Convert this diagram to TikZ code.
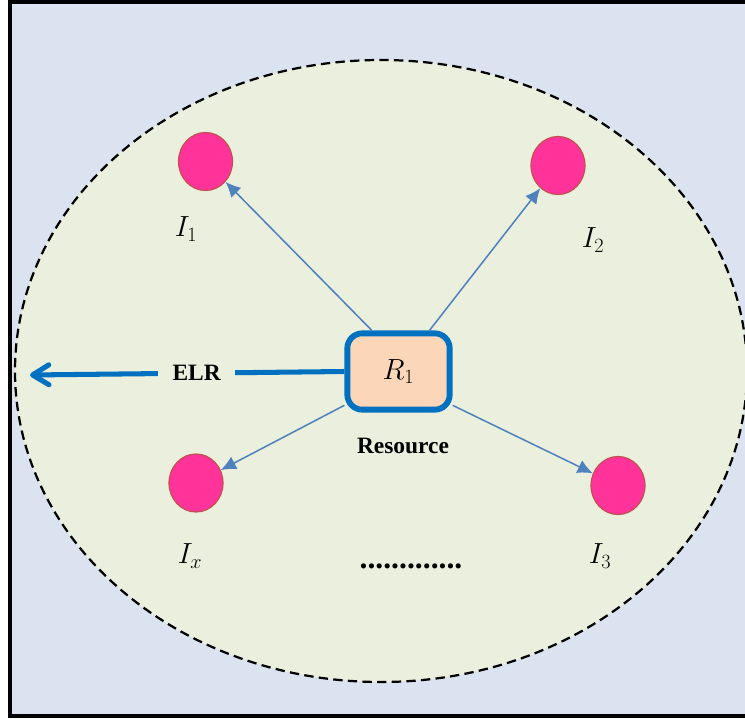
\documentclass[tikz,border=0pt]{standalone}
\usepackage{fontspec}
\setmainfont{Liberation Serif}
\usetikzlibrary{arrows.meta, positioning, shapes.geometric}
\definecolor{frameBg}{RGB}{219, 227, 240}
\definecolor{zoneFill}{RGB}{235, 240, 222}
\definecolor{itemPink}{RGB}{255, 51, 153}
\definecolor{itemEdge}{RGB}{192, 80, 77}
\definecolor{resFill}{RGB}{252, 214, 184}
\definecolor{resEdge}{RGB}{0, 112, 192}
\definecolor{linkBlue}{RGB}{79, 129, 189}

\begin{document}
\begin{tikzpicture}[
    x=0.03cm, y=-0.03cm,
    itemNode/.style={ellipse, draw=itemEdge, fill=itemPink, line width=1pt, minimum width=1.62cm, minimum height=1.74cm},
    labelNode/.style={font=\fontsize{23}{27}\selectfont, inner sep=0pt},
    resNode/.style={rectangle, draw=resEdge, fill=resFill, rounded corners=0.45cm, line width=5pt, minimum width=3.07cm, minimum height=2.29cm, font=\fontsize{23}{27}\selectfont},
    txtNode/.style={font=\fontsize{20}{24}\selectfont\bfseries, inner sep=0pt},
    link/.style={-{Latex[length=13pt, width=12pt]}, line width=1.3pt, draw=linkBlue},
    elrLink/.style={-{Straight Barb[length=14pt, width=17pt, round]}, line width=4.3pt, draw=resEdge}
  ]
    \useasboundingbox (0,0) rectangle (745,719);
    \clip (0,0) rectangle (745,719);

    % Frame and dashed zone
    \draw[line width=3.4pt, fill=frameBg] (10,2) rectangle (780,716);
    \draw[fill=zoneFill, line width=1.9pt, dash pattern=on 8pt off 4.5pt] (381,371) ellipse [x radius=366, y radius=311];

    % Resource
    \node[resNode] (res) at (398.5,371.5) {$R_1$};
    \node[txtNode, anchor=base] (restxt) at (403,453) {Resource};

    % Items
    \node[itemNode] (i1) at (205.5,161.5) {};
    \node[itemNode] (i2) at (558,165.5) {};
    \node[itemNode] (ix) at (196,483) {};
    \node[itemNode] (i3) at (618,485.5) {};

    \node[labelNode] (l1) at (186,229) {$I_1$};
    \node[labelNode] (l2) at (593,240) {$I_2$};
    \node[labelNode] (lx) at (190,556) {$I_x$};
    \node[labelNode] (l3) at (600,556) {$I_3$};

    \node[font=\fontsize{27}{30}\selectfont\bfseries, anchor=base, inner sep=0pt] (dots) at (411,568) {.............};

    % Links
    \draw[link] (res.123) -- (i1);
    \draw[link] (res.53) -- (i2);
    \draw[link] (res.212) -- (ix);
    \draw[link] (res.328) -- (i3);

    \coordinate (elrEnd) at (30,375);
    \draw[elrLink] (res.west) -- node[txtNode, fill=zoneFill, inner xsep=12pt, inner ysep=4pt, pos=0.47] (elr) {ELR} (elrEnd);
  \end{tikzpicture}
\end{document}
